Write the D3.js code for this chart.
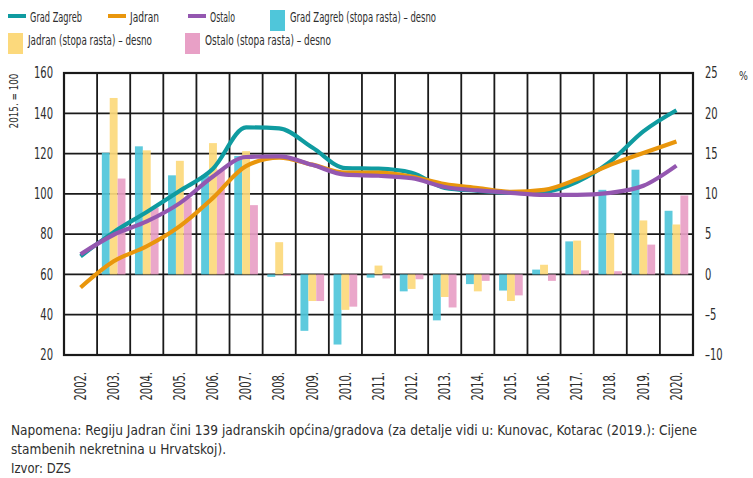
<!DOCTYPE html>
<html>
<head>
<meta charset="utf-8">
<script src="https://cdn.jsdelivr.net/npm/d3@7"></script>
<style>
  body { margin: 0; background: #fff; }
  svg text { font-family: "DejaVu Sans Condensed", "DejaVu Sans", sans-serif; fill: #2e2e2e; }
</style>
</head>
<body>
<svg id="chart" width="753" height="478"></svg>
<script>
// data
var years = ["2002.", "2003.", "2004.", "2005.", "2006.", "2007.", "2008.", "2009.", "2010.", "2011.",
  "2012.", "2013.", "2014.", "2015.", "2016.", "2017.", "2018.", "2019.", "2020."];

// index, 2015 = 100 (left axis)
var zagreb = [69, 81, 91, 101.5, 112.5, 133, 132.5, 123, 112.8, 112.5, 110.5, 103, 101.5, 100.5, 101, 106, 116, 131, 141.5];
var jadran = [53.5, 66.5, 74, 84, 98, 113.8, 118, 114.5, 110.5, 110.5, 108.6, 104.8, 102.9, 101, 102, 107.3, 114.4, 120.3, 126];
var ostalo = [70, 79.7, 86.3, 95.4, 108.6, 118.3, 118.6, 114.4, 109.5, 109, 107.8, 103.4, 101.7, 100.5, 99.5, 99.5, 100.5, 104, 114];

// growth rates in % (right axis)
var zagrebRate = [null, 15.1, 15.9, 12.3, 12.3, 14.7, -0.3, -7.0, -8.7, -0.4, -2.1, -5.7, -1.2, -2.0, 0.6, 4.1, 10.5, 13.0, 7.9];
var jadranRate = [null, 21.9, 15.4, 14.1, 16.3, 15.3, 4.0, -3.3, -4.4, 1.1, -1.8, -2.8, -2.1, -3.3, 1.2, 4.2, 5.1, 6.7, 6.2];
var ostaloRate = [null, 11.9, 8.3, 9.5, 13.0, 8.6, -0.2, -3.3, -4.0, -0.5, -0.6, -4.1, -0.8, -2.6, -0.8, 0.5, 0.4, 3.7, 9.8];

var leftTicks = [20, 40, 60, 80, 100, 120, 140, 160];
var rightTicks = [-10, -5, 0, 5, 10, 15, 20, 25];

var lineSeries = [
  { name: "Grad Zagreb", values: zagreb, color: "#0f9ba0" },
  { name: "Jadran", values: jadran, color: "#e9960c" },
  { name: "Ostalo", values: ostalo, color: "#9457b0" }
];
var barSeries = [
  { name: "Grad Zagreb (stopa rasta) – desno", values: zagrebRate, color: "#4fc6da" },
  { name: "Jadran (stopa rasta) – desno", values: jadranRate, color: "#fcd97c" },
  { name: "Ostalo (stopa rasta) – desno", values: ostaloRate, color: "#e8a0c6" }
];

var svg = d3.select("#chart");
var plotLeft = 64, plotRight = 693, plotTop = 73, plotBottom = 355;

// squeeze text to look like the narrow font of the original
function narrow(sel, k) {
  sel.each(function () {
    var w = this.getComputedTextLength();
    d3.select(this).attr("textLength", w * k).attr("lengthAdjust", "spacingAndGlyphs");
  });
}

var x = d3.scaleBand().domain(years).range([plotLeft, plotRight]);
var xBar = d3.scaleBand().domain([0, 1, 2]).range([0, x.bandwidth()]).paddingOuter(0.6).paddingInner(0);
var yL = d3.scaleLinear().domain([20, 160]).range([plotBottom, plotTop]);
var yR = d3.scaleLinear().domain([-10, 25]).range([plotBottom, plotTop]);

// --- grid ------------------------------------------------------------
var grid = svg.append("g").attr("stroke", "#1a1a1a").attr("stroke-width", 1.8);
grid.selectAll("line.h")
  .data(leftTicks)
  .enter().append("line")
  .attr("x1", plotLeft).attr("x2", plotRight)
  .attr("y1", function (d) { return yL(d); }).attr("y2", function (d) { return yL(d); });
grid.selectAll("line.v")
  .data(years)
  .enter().append("line")
  .attr("x1", function (d) { return x(d); }).attr("x2", function (d) { return x(d); })
  .attr("y1", plotTop).attr("y2", plotBottom);
grid.append("rect")
  .attr("x", plotLeft).attr("y", plotTop).attr("width", plotRight - plotLeft).attr("height", plotBottom - plotTop)
  .attr("fill", "none").attr("stroke-width", 2.2);

// --- bars --------------------------------------------------------------
barSeries.forEach(function (s, i) {
  svg.append("g")
    .selectAll("rect")
    .data(s.values.map(function (v, j) { return { year: years[j], v: v }; }).filter(function (d) { return d.v !== null; }))
    .enter().append("rect")
    .attr("x", function (d) { return x(d.year) + xBar(i); })
    .attr("width", xBar.bandwidth())
    .attr("y", function (d) { return Math.min(yR(d.v), yR(0)); })
    .attr("height", function (d) { return Math.abs(yR(d.v) - yR(0)); })
    .attr("fill", s.color)
    .attr("opacity", 0.92);
});

// --- lines -------------------------------------------------------------
var line = d3.line()
  .x(function (d, i) { return x(years[i]) + x.bandwidth() / 2; })
  .y(function (d) { return yL(d); })
  .curve(d3.curveMonotoneX);

svg.append("g")
  .selectAll("path")
  .data(lineSeries)
  .enter().append("path")
  .attr("d", function (d) { return line(d.values); })
  .attr("fill", "none")
  .attr("stroke", function (d) { return d.color; })
  .attr("stroke-width", 4.2)
  .attr("stroke-linejoin", "round");

// --- axes --------------------------------------------------------------
var axisL = svg.append("g").attr("transform", "translate(" + plotLeft + ",0)")
  .call(d3.axisLeft(yL).tickValues(leftTicks).tickSize(0).tickPadding(11));
var axisR = svg.append("g").attr("transform", "translate(" + plotRight + ",0)")
  .call(d3.axisRight(yR).tickValues(rightTicks).tickSize(0).tickPadding(12)
    .tickFormat(function (d) { return d < 0 ? "–" + Math.abs(d) : d; }));
var axisB = svg.append("g").attr("transform", "translate(0," + plotBottom + ")")
  .call(d3.axisBottom(x).tickSize(0).tickPadding(0));

[axisL, axisR, axisB].forEach(function (a) {
  a.select(".domain").remove();
  a.selectAll("text").attr("font-size", 15).attr("fill", "#2e2e2e").call(narrow, 0.74);
});
axisB.selectAll("text")
  .attr("transform", "rotate(-90)")
  .attr("text-anchor", "end")
  .attr("dy", "0.35em")
  .attr("x", -17).attr("y", 0);

svg.append("text")
  .attr("transform", "translate(18,101) rotate(-90)")
  .attr("text-anchor", "middle")
  .attr("font-size", 12.5)
  .text("2015. = 100")
  .call(narrow, 0.78);
svg.append("text")
  .attr("x", 739).attr("y", 80)
  .attr("font-size", 13)
  .text("%")
  .call(narrow, 0.8);

// --- legend ------------------------------------------------------------
var legendLines = [
  { s: lineSeries[0], x: 8, y: 17, w: 52 },
  { s: lineSeries[1], x: 108, y: 17, w: 29 },
  { s: lineSeries[2], x: 188, y: 17, w: 25 }
];
var legendBoxes = [
  { s: barSeries[0], x: 270, y: 20, w: 146 },
  { s: barSeries[1], x: 8, y: 43, w: 124 },
  { s: barSeries[2], x: 185, y: 43, w: 126 }
];
var lg = svg.append("g").attr("font-size", 14);
legendLines.forEach(function (d) {
  lg.append("line")
    .attr("x1", d.x).attr("x2", d.x + 18).attr("y1", d.y - 1).attr("y2", d.y - 1)
    .attr("stroke", d.s.color).attr("stroke-width", 4);
  lg.append("text").attr("x", d.x + 22).attr("y", d.y).attr("dy", "0.35em")
    .attr("textLength", d.w).attr("lengthAdjust", "spacingAndGlyphs").text(d.s.name);
});
legendBoxes.forEach(function (d) {
  lg.append("rect")
    .attr("x", d.x).attr("y", d.y - 10).attr("width", 15).attr("height", 21)
    .attr("fill", d.s.color);
  lg.append("text").attr("x", d.x + 20).attr("y", d.y - 3).attr("dy", "0.35em")
    .attr("textLength", d.w).attr("lengthAdjust", "spacingAndGlyphs").text(d.s.name);
});

// --- notes -------------------------------------------------------------
var notes = [
  "Napomena: Regiju Jadran čini 139 jadranskih općina/gradova (za detalje vidi u: Kunovac, Kotarac (2019.): Cijene",
  "stambenih nekretnina u Hrvatskoj).",
  "Izvor: DZS"
];
var noteWidths = [686, 215, 60];
svg.append("g").selectAll("text")
  .data(notes)
  .enter().append("text")
  .attr("x", 11)
  .attr("y", function (d, i) { return 435 + i * 19; })
  .attr("font-size", 14)
  .attr("textLength", function (d, i) { return noteWidths[i]; })
  .attr("lengthAdjust", "spacingAndGlyphs")
  .text(function (d) { return d; });
</script>
</body>
</html>
